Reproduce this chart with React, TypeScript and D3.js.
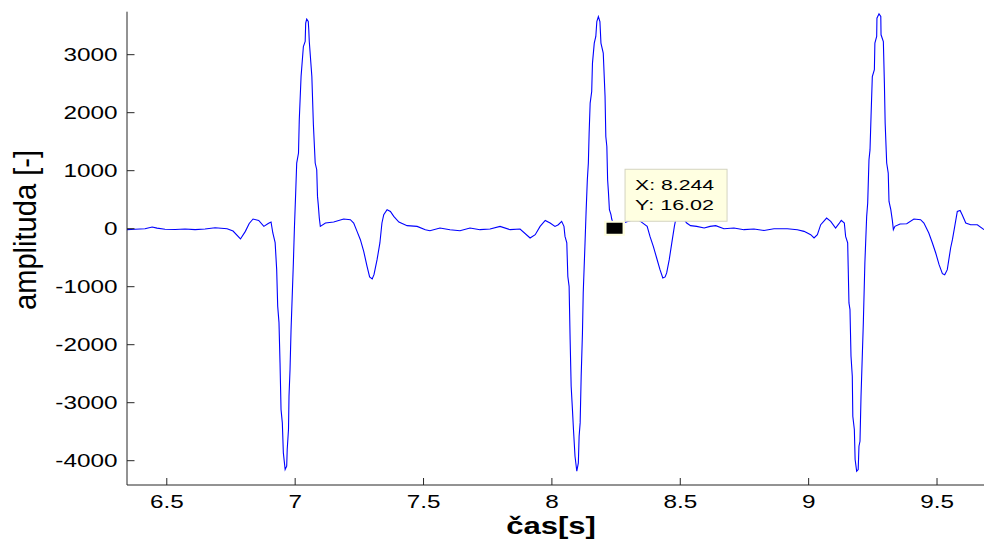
import React from "react";
import * as d3 from "d3";

const time = [
  6.345, 6.376, 6.415, 6.443, 6.462, 6.493, 6.532, 6.571, 6.61, 6.649, 6.688, 6.735, 6.758, 6.787, 6.806, 6.821,
  6.836, 6.858, 6.878, 6.895, 6.906, 6.913, 6.922, 6.928, 6.932, 6.937, 6.941, 6.945, 6.95, 6.954, 6.961, 6.967,
  6.969, 6.974, 6.976, 6.98, 6.984, 6.993, 6.997, 7.002, 7.006, 7.013, 7.016, 7.023, 7.032, 7.039, 7.041, 7.045,
  7.051, 7.053, 7.055, 7.065, 7.071, 7.078, 7.084, 7.087, 7.09, 7.094, 7.098, 7.118, 7.15, 7.189, 7.215, 7.228,
  7.241, 7.254, 7.267, 7.28, 7.29, 7.3, 7.307, 7.319, 7.33, 7.338, 7.345, 7.358, 7.371, 7.384, 7.404, 7.436,
  7.475, 7.507, 7.525, 7.564, 7.603, 7.642, 7.681, 7.72, 7.759, 7.798, 7.837, 7.876, 7.915, 7.935, 7.954, 7.974,
  7.993, 8.012, 8.025, 8.038, 8.047, 8.051, 8.058, 8.062, 8.067, 8.071, 8.075, 8.08, 8.084, 8.09, 8.097, 8.103,
  8.106, 8.11, 8.114, 8.119, 8.122, 8.129, 8.133, 8.138, 8.142, 8.145, 8.149, 8.155, 8.158, 8.165, 8.171, 8.175,
  8.181, 8.187, 8.191, 8.2, 8.207, 8.21, 8.214, 8.217, 8.22, 8.224, 8.23, 8.233, 8.244, 8.267, 8.298, 8.329,
  8.345, 8.371, 8.382, 8.395, 8.408, 8.421, 8.432, 8.441, 8.447, 8.457, 8.467, 8.477, 8.485, 8.497, 8.508, 8.525,
  8.54, 8.564, 8.593, 8.616, 8.638, 8.67, 8.709, 8.748, 8.787, 8.826, 8.865, 8.917, 8.956, 8.982, 9.008, 9.021,
  9.034, 9.047, 9.07, 9.086, 9.105, 9.118, 9.127, 9.139, 9.144, 9.152, 9.154, 9.157, 9.161, 9.165, 9.17, 9.172,
  9.178, 9.181, 9.187, 9.193, 9.196, 9.2, 9.204, 9.213, 9.219, 9.226, 9.23, 9.235, 9.239, 9.243, 9.248, 9.256,
  9.258, 9.265, 9.266, 9.274, 9.281, 9.282, 9.291, 9.295, 9.298, 9.304, 9.31, 9.313, 9.32, 9.326, 9.33, 9.336,
  9.356, 9.382, 9.41, 9.436, 9.449, 9.468, 9.482, 9.495, 9.508, 9.521, 9.53, 9.54, 9.553, 9.56, 9.569, 9.579,
  9.59, 9.598, 9.612, 9.631, 9.657, 9.683,
];

const amplitude = [
  -17, -10, 0, 30, 10, -10, -15, -5, -17, -5, 15, 0, -40, -177, -46, 90,
  167, 143, 40, 90, 115, -74, -240, -706, -1339, -1620, -2309, -3119, -3348, -3865, -4152, -4095,
  -3808, -3463, -2889, -2429, -1740, -591, 0, 615, 1132, 1304, 1878, 2624, 3141, 3227, 3544, 3613,
  3572, 3429, 3227, 2624, 1792, 1132, 1017, 557, 414, 184, 40, 98, 115, 167, 155, 98,
  -46, -190, -391, -650, -833, -867, -793, -534, -246, 98, 241, 327, 298, 212, 115, 52,
  40, -17, -35, 12, -17, -35, 12, -17, -5, 40, -17, -5, -160, -103, 40, 143,
  98, 40, 69, 126, 40, -133, -246, -822, -994, -1913, -2717, -3119, -3463, -3923, -4181, -4037,
  -3579, -3348, -2545, -1797, -1108, -246, 271, 844, 1132, 1649, 2166, 2366, 2855, 3200, 3314, 3572,
  3658, 3572, 3200, 3027, 2280, 1590, 1418, 844, 643, 327, 241, 167, 16.02, 80, 130, 170,
  126, 40, -133, -305, -505, -706, -849, -832, -763, -534, -246, 40, 220, 290, 200, 98,
  52, 40, 12, 40, 52, 0, 12, -17, -5, -30, 0, 0, -17, -46, -103, -160,
  -103, 69, 184, 126, 12, 86, 143, 98, -133, -246, -650, -1280, -1396, -2200, -2545, -3234,
  -3463, -3980, -4181, -4152, -3751, -3665, -2889, -1625, -591, 212, 443, 1189, 1358, 1935, 2624, 2740,
  3200, 3314, 3630, 3704, 3658, 3343, 3227, 2510, 1821, 1132, 959, 470, 327, 143, -17, 40,
  81, 86, 167, 155, 98, -74, -246, -419, -620, -775, -793, -706, -333, -190, 40, 298,
  315, 241, 98, 69, 69, -17,
];

const xTicks = [6.5, 7, 7.5, 8, 8.5, 9, 9.5];
const xTickLabels = ["6.5", "7", "7.5", "8", "8.5", "9", "9.5"];
const yTicks = [-4000, -3000, -2000, -1000, 0, 1000, 2000, 3000];
const yTickLabels = ["-4000", "-3000", "-2000", "-1000", "0", "1000", "2000", "3000"];
const cursorX = 8.244;
const cursorY = 16.02;
const cursorLabels = ["X: 8.244", "Y: 16.02"];
const xLabel = "čas[s]";
const yLabel = "amplituda [-]";

const W = 984;
const H = 541;
const left = 127;
const right = 984;
const top = 11.7;
const bottom = 485;
const FONT = "'Liberation Sans', Arial, Helvetica, sans-serif";
const SX = 1.28;

export default function App() {
  const x = d3.scaleLinear().domain([6.345, 9.683]).range([left, right]);
  const y = d3.scaleLinear().domain([-4419, 3741]).range([bottom, top]);
  const pts = time.map((t, i) => [t, amplitude[i]] as [number, number]);
  const line = d3
    .line<[number, number]>()
    .x((d) => x(d[0]))
    .y((d) => y(d[1]));
  const cx = x(cursorX);
  const cy = y(cursorY);
  return (
    <svg
      width={W}
      height={H}
      style={{ position: "absolute", left: 0, top: 0, background: "#fff" }}
      fontFamily={FONT}
    >
      <rect x={0} y={0} width={W} height={H} fill="#fff" />
      <path d={line(pts) || ""} fill="none" stroke="#0000ff" strokeWidth={1.1} />
      {/* axes */}
      <line x1={left} x2={left} y1={top} y2={bottom} stroke="#262626" strokeWidth={1} />
      <line x1={left} x2={right} y1={bottom} y2={bottom} stroke="#262626" strokeWidth={1} />
      {yTicks.map((v, i) => (
        <g key={"y" + v}>
          <line x1={left} x2={left + 7.5} y1={y(v)} y2={y(v)} stroke="#262626" />
          <text
            transform={`translate(${left - 9.5},${y(v) + 6.8}) scale(${SX},1)`}
            textAnchor="end"
            fontSize={19}
            fill="#000"
          >
            {yTickLabels[i]}
          </text>
        </g>
      ))}
      {xTicks.map((v, i) => (
        <g key={"x" + v}>
          <line x1={x(v)} x2={x(v)} y1={bottom} y2={bottom - 7} stroke="#262626" />
          <text
            transform={`translate(${x(v)},${bottom + 23.3}) scale(${SX},1)`}
            textAnchor="middle"
            fontSize={19}
            fill="#000"
          >
            {xTickLabels[i]}
          </text>
        </g>
      ))}
      <text
        transform={`translate(551,534) scale(1.35,1)`}
        textAnchor="middle"
        fontSize={23}
        fontWeight="bold"
        fill="#000"
      >
        {xLabel}
      </text>
      <text
        transform={`translate(36,230) scale(${SX},1) rotate(-90)`}
        textAnchor="middle"
        fontSize={24}
        textLength={160}
        lengthAdjust="spacingAndGlyphs"
        fill="#000"
      >
        {yLabel}
      </text>
      {/* data cursor */}
      <rect x={cx - 10.5} y={cy - 7} width={21} height={15} fill="#ffffe1" />
      <rect x={cx - 8} y={cy - 5} width={16} height={11} fill="#000" />
      <rect
        x={cx + 10.5}
        y={cy - 58.5}
        width={102}
        height={52}
        fill="#ffffe1"
        stroke="#d4d4c0"
        strokeWidth={1}
      />
      {cursorLabels.map((s, i) => (
        <text
          key={s}
          x={cx + 20.5}
          y={cy - 37.5 + i * 19.5}
          fontSize={15}
          textLength={79}
          lengthAdjust="spacingAndGlyphs"
          fill="#000"
        >
          {s}
        </text>
      ))}
    </svg>
  );
}
